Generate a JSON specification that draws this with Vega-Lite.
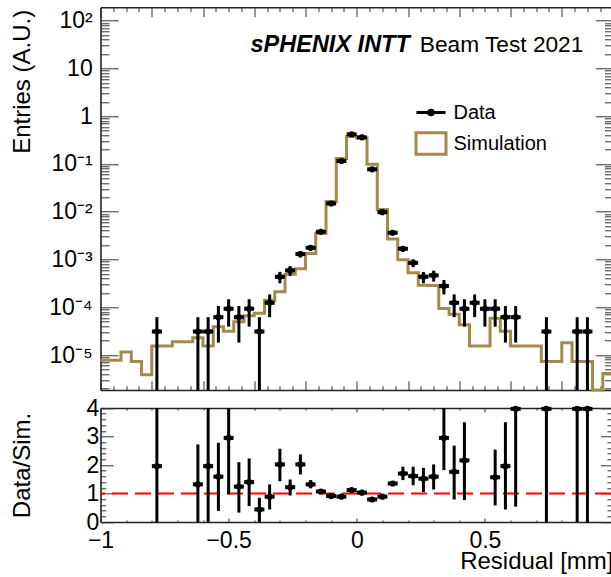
{
  "$schema": "https://vega.github.io/schema/vega-lite/v6.json",
  "autosize": {"type": "none"},
  "padding": {"left": 100.5, "top": 7.3, "right": 0, "bottom": 55},
  "background": "white",
  "width": 510.5,
  "height": 514.7,
  "config": {
    "view": {"stroke": null},
    "font": "Liberation Sans",
    "axis": {
      "grid": false,
      "domainColor": "#222222",
      "domainWidth": 1.6,
      "tickColor": "#333333",
      "tickWidth": 1,
      "labelFont": "Liberation Sans",
      "labelColor": "#000000",
      "labelFontSize": 23,
      "titleFont": "Liberation Sans",
      "titleColor": "#000000",
      "titleFontWeight": "normal",
      "titleFontSize": 24
    }
  },
  "datasets": {
    "sim": [
      {"x0": -1.00, "v": 7.8e-6}, {"x0": -0.96, "v": 7.8e-6}, {"x0": -0.92, "v": 1.15e-5}, {"x0": -0.88, "v": 7.3e-6},
      {"x0": -0.84, "v": 3.85e-6}, {"x0": -0.80, "v": 1.55e-5}, {"x0": -0.76, "v": 1.55e-5}, {"x0": -0.72, "v": 1.9e-5},
      {"x0": -0.68, "v": 1.9e-5}, {"x0": -0.64, "v": 2.3e-5}, {"x0": -0.60, "v": 1.55e-5}, {"x0": -0.56, "v": 3.9e-5},
      {"x0": -0.52, "v": 3.15e-5}, {"x0": -0.48, "v": 5.0e-5}, {"x0": -0.44, "v": 6.6e-5}, {"x0": -0.40, "v": 7.5e-5},
      {"x0": -0.36, "v": 1.4e-4}, {"x0": -0.32, "v": 2.12e-4}, {"x0": -0.28, "v": 4.9e-4}, {"x0": -0.24, "v": 6.4e-4},
      {"x0": -0.20, "v": 1.33e-3}, {"x0": -0.16, "v": 3.55e-3}, {"x0": -0.12, "v": 1.64e-2}, {"x0": -0.08, "v": 0.131},
      {"x0": -0.04, "v": 0.376}, {"x0": 0.00, "v": 0.352}, {"x0": 0.04, "v": 0.099}, {"x0": 0.08, "v": 0.0112},
      {"x0": 0.12, "v": 2.7e-3}, {"x0": 0.16, "v": 9.9e-4}, {"x0": 0.20, "v": 5.3e-4}, {"x0": 0.24, "v": 2.9e-4},
      {"x0": 0.28, "v": 2.85e-4}, {"x0": 0.32, "v": 9.4e-5}, {"x0": 0.36, "v": 7.1e-5}, {"x0": 0.40, "v": 4.3e-5},
      {"x0": 0.44, "v": 1.55e-5}, {"x0": 0.48, "v": 1.55e-5}, {"x0": 0.52, "v": 5.9e-5}, {"x0": 0.56, "v": 3.15e-5},
      {"x0": 0.60, "v": 1.55e-5}, {"x0": 0.64, "v": 1.55e-5}, {"x0": 0.68, "v": 1.55e-5}, {"x0": 0.72, "v": 7.3e-6},
      {"x0": 0.76, "v": 7.3e-6}, {"x0": 0.80, "v": 1.8e-5}, {"x0": 0.84, "v": 7.3e-6}, {"x0": 0.88, "v": 7.3e-6},
      {"x0": 0.92, "v": 1e-6}, {"x0": 0.96, "v": 4.1e-6}, {"x0": 1.00, "v": 4.1e-6}
    ],
    "data": [
      {"x": -0.78, "y": 3.1e-5, "lo": 1e-7, "hi": 6.2e-5},
      {"x": -0.62, "y": 3.1e-5, "lo": 1e-7, "hi": 6.2e-5},
      {"x": -0.58, "y": 3.1e-5, "lo": 1e-7, "hi": 6.2e-5},
      {"x": -0.54, "y": 6.2e-5, "lo": 1.82e-5, "hi": 1.06e-4},
      {"x": -0.50, "y": 9.3e-5, "lo": 3.93e-5, "hi": 1.47e-4},
      {"x": -0.46, "y": 6.2e-5, "lo": 1.82e-5, "hi": 1.06e-4},
      {"x": -0.42, "y": 9.3e-5, "lo": 3.93e-5, "hi": 1.47e-4},
      {"x": -0.38, "y": 3.1e-5, "lo": 1e-7, "hi": 6.2e-5},
      {"x": -0.34, "y": 1.24e-4, "lo": 6.2e-5, "hi": 1.86e-4},
      {"x": -0.30, "y": 4.34e-4, "lo": 3.18e-4, "hi": 5.5e-4},
      {"x": -0.26, "y": 5.9e-4, "lo": 4.55e-4, "hi": 7.25e-4},
      {"x": -0.22, "y": 1.3e-3, "lo": 1.1e-3, "hi": 1.5e-3},
      {"x": -0.18, "y": 1.76e-3, "lo": 1.53e-3, "hi": 1.99e-3},
      {"x": -0.14, "y": 3.8e-3, "lo": 3.46e-3, "hi": 4.14e-3},
      {"x": -0.10, "y": 0.0149, "lo": 0.0142, "hi": 0.0156},
      {"x": -0.06, "y": 0.1155, "lo": 0.1135, "hi": 0.1175},
      {"x": -0.02, "y": 0.418, "lo": 0.414, "hi": 0.422},
      {"x": 0.02, "y": 0.361, "lo": 0.357, "hi": 0.365},
      {"x": 0.06, "y": 0.0773, "lo": 0.0757, "hi": 0.0789},
      {"x": 0.10, "y": 9.8e-3, "lo": 9.25e-3, "hi": 1.035e-2},
      {"x": 0.14, "y": 3.63e-3, "lo": 3.29e-3, "hi": 3.97e-3},
      {"x": 0.18, "y": 1.68e-3, "lo": 1.45e-3, "hi": 1.91e-3},
      {"x": 0.22, "y": 8.5e-4, "lo": 6.9e-4, "hi": 1.01e-3},
      {"x": 0.26, "y": 4.34e-4, "lo": 3.18e-4, "hi": 5.5e-4},
      {"x": 0.30, "y": 4.65e-4, "lo": 3.45e-4, "hi": 5.85e-4},
      {"x": 0.34, "y": 2.79e-4, "lo": 1.86e-4, "hi": 3.72e-4},
      {"x": 0.38, "y": 1.24e-4, "lo": 6.2e-5, "hi": 1.86e-4},
      {"x": 0.42, "y": 9.3e-5, "lo": 3.93e-5, "hi": 1.47e-4},
      {"x": 0.46, "y": 1.24e-4, "lo": 6.2e-5, "hi": 1.86e-4},
      {"x": 0.50, "y": 9.3e-5, "lo": 3.93e-5, "hi": 1.47e-4},
      {"x": 0.54, "y": 9.3e-5, "lo": 3.93e-5, "hi": 1.47e-4},
      {"x": 0.58, "y": 6.2e-5, "lo": 1.82e-5, "hi": 1.06e-4},
      {"x": 0.62, "y": 6.2e-5, "lo": 1.82e-5, "hi": 1.06e-4},
      {"x": 0.74, "y": 3.1e-5, "lo": 1e-7, "hi": 6.2e-5},
      {"x": 0.86, "y": 3.1e-5, "lo": 1e-7, "hi": 6.2e-5},
      {"x": 0.90, "y": 3.1e-5, "lo": 1e-7, "hi": 6.2e-5}
    ],
    "ratio": [
      {"x": -0.78, "r": 1.96, "lo": 0, "hi": 4},
      {"x": -0.62, "r": 1.32, "lo": 0, "hi": 2.72},
      {"x": -0.58, "r": 1.96, "lo": 0, "hi": 4},
      {"x": -0.54, "r": 1.59, "lo": 0.39, "hi": 2.78},
      {"x": -0.50, "r": 2.95, "lo": 0.97, "hi": 4},
      {"x": -0.46, "r": 1.24, "lo": 0.33, "hi": 2.10},
      {"x": -0.42, "r": 1.40, "lo": 0.56, "hi": 2.23},
      {"x": -0.38, "r": 0.44, "lo": 0, "hi": 0.85},
      {"x": -0.34, "r": 0.89, "lo": 0.44, "hi": 1.32},
      {"x": -0.30, "r": 2.02, "lo": 1.43, "hi": 2.57},
      {"x": -0.26, "r": 1.22, "lo": 0.93, "hi": 1.49},
      {"x": -0.22, "r": 2.02, "lo": 1.67, "hi": 2.37},
      {"x": -0.18, "r": 1.32, "lo": 1.18, "hi": 1.47},
      {"x": -0.14, "r": 1.07, "lo": 0.99, "hi": 1.15},
      {"x": -0.10, "r": 0.91, "lo": 0.88, "hi": 0.94},
      {"x": -0.06, "r": 0.89, "lo": 0.88, "hi": 0.90},
      {"x": -0.02, "r": 1.12, "lo": 1.11, "hi": 1.13},
      {"x": 0.02, "r": 1.03, "lo": 1.02, "hi": 1.04},
      {"x": 0.06, "r": 0.79, "lo": 0.78, "hi": 0.80},
      {"x": 0.10, "r": 0.89, "lo": 0.85, "hi": 0.93},
      {"x": 0.14, "r": 1.35, "lo": 1.27, "hi": 1.43},
      {"x": 0.18, "r": 1.70, "lo": 1.47, "hi": 1.94},
      {"x": 0.22, "r": 1.61, "lo": 1.29, "hi": 1.94},
      {"x": 0.26, "r": 1.52, "lo": 1.05, "hi": 1.90},
      {"x": 0.30, "r": 1.59, "lo": 1.14, "hi": 2.02},
      {"x": 0.34, "r": 2.95, "lo": 1.82, "hi": 4},
      {"x": 0.38, "r": 1.76, "lo": 0.79, "hi": 2.68},
      {"x": 0.42, "r": 2.16, "lo": 0.77, "hi": 3.50},
      {"x": 0.54, "r": 1.57, "lo": 0.58, "hi": 2.54},
      {"x": 0.58, "r": 1.96, "lo": 0.44, "hi": 3.50},
      {"x": 0.62, "r": 3.97, "lo": 0.54, "hi": 4},
      {"x": 0.74, "r": 3.97, "lo": 0, "hi": 4},
      {"x": 0.86, "r": 3.97, "lo": 0, "hi": 4},
      {"x": 0.90, "r": 3.97, "lo": 0, "hi": 4}
    ]
  },
  "layer": [
    {
      "data": {"name": "sim"},
      "mark": {"type": "line", "interpolate": "step-after", "strokeWidth": 3},
      "encoding": {
        "x": {
          "field": "x0", "type": "quantitative",
          "scale": {"domain": [-1, 0.992], "nice": false, "zero": false},
          "axis": {
            "orient": "bottom", "offset": -132, "title": null, "labels": false, "domain": true,
            "values": [-1, -0.95, -0.9, -0.85, -0.8, -0.75, -0.7, -0.65, -0.6, -0.55, -0.5, -0.45, -0.4, -0.35, -0.3, -0.25, -0.2, -0.15, -0.1, -0.05, 0, 0.05, 0.1, 0.15, 0.2, 0.25, 0.3, 0.35, 0.4, 0.45, 0.5, 0.55, 0.6, 0.65, 0.7, 0.75, 0.8, 0.85, 0.9, 0.95],
            "tickSize": {"condition": {"test": "abs(datum.value*5 - round(datum.value*5)) < 0.001", "value": -9.3}, "value": -4.3}
          }
        },
        "y": {
          "field": "v", "type": "quantitative",
          "scale": {"type": "log", "domain": [1.85e-6, 191], "range": [382.7, 0], "nice": false, "clamp": true},
          "axis": {
            "orient": "left", "domain": true,
            "values": [2e-6, 3e-6, 4e-6, 5e-6, 6e-6, 7e-6, 8e-6, 9e-6, 1e-5, 2e-5, 3e-5, 4e-5, 5e-5, 6e-5, 7e-5, 8e-5, 9e-5, 1e-4, 2e-4, 3e-4, 4e-4, 5e-4, 6e-4, 7e-4, 8e-4, 9e-4, 1e-3, 2e-3, 3e-3, 4e-3, 5e-3, 6e-3, 7e-3, 8e-3, 9e-3, 0.01, 0.02, 0.03, 0.04, 0.05, 0.06, 0.07, 0.08, 0.09, 0.1, 0.2, 0.3, 0.4, 0.5, 0.6, 0.7, 0.8, 0.9, 1, 2, 3, 4, 5, 6, 7, 8, 9, 10, 20, 30, 40, 50, 60, 70, 80, 90, 100],
            "tickSize": {"condition": {"test": "abs(log(datum.value)/LN10 - round(log(datum.value)/LN10)) < 0.001", "value": -17.7}, "value": -8.5},
            "labelExpr": "abs(log(datum.value)/LN10 - round(log(datum.value)/LN10)) < 0.001 ? (datum.value > 50 ? '10²' : datum.value > 5 ? '10\u2002' : datum.value > 0.5 ? '1\u2002' : '10⁻' + ['⁰','¹','²','³','⁴','⁵','⁶'][round(-log(datum.value)/LN10)]) : ''",
            "labelPadding": 26,
            "labelBaseline": "middle",
            "title": "Entries (A.U.)",
            "titleAngle": 270,
            "titleAlign": "right",
            "titleBaseline": "alphabetic",
            "titleX": -71,
            "titleY": 2
          }
        },
        "color": {
          "datum": "Simulation", "type": "nominal",
          "scale": {"domain": ["Data", "Simulation"], "range": ["#000000", "#a18a4c"]},
          "legend": {
            "title": null,
            "orient": "none",
            "legendX": 314,
            "legendY": 88.7,
            "padding": 0,
            "rowPadding": 3,
            "labelFont": "Liberation Sans",
            "labelFontSize": 20,
            "labelColor": "#000000",
            "labelOffset": 6,
            "symbolSize": 900,
            "symbolStrokeWidth": 3,
            "encode": {
              "symbols": {
                "update": {
                  "shape": {"signal": "datum.value === 'Data' ? 'M-0.97,0H0.97M-0.15,0A0.15,0.15,0,1,0,0.15,0A0.15,0.15,0,1,0,-0.15,0Z' : 'M-1,-0.72H1V0.72H-1Z'"},
                  "fill": {"signal": "datum.value === 'Data' ? '#000000' : 'transparent'"},
                  "stroke": {"signal": "datum.value === 'Data' ? '#000000' : '#a18a4c'"},
                  "strokeWidth": {"value": 3},
                  "size": {"value": 900},
                  "opacity": {"value": 1}
                }
              }
            }
          }
        }
      }
    },
    {
      "data": {"name": "data"},
      "mark": {"type": "rule", "strokeWidth": 3},
      "encoding": {
        "x": {
          "field": "x", "type": "quantitative",
          "scale": {"domain": [-1, 0.992], "nice": false, "zero": false},
          "axis": {
            "orient": "top", "title": null, "labels": false, "domain": true,
            "values": [-1, -0.95, -0.9, -0.85, -0.8, -0.75, -0.7, -0.65, -0.6, -0.55, -0.5, -0.45, -0.4, -0.35, -0.3, -0.25, -0.2, -0.15, -0.1, -0.05, 0, 0.05, 0.1, 0.15, 0.2, 0.25, 0.3, 0.35, 0.4, 0.45, 0.5, 0.55, 0.6, 0.65, 0.7, 0.75, 0.8, 0.85, 0.9, 0.95],
            "tickSize": {"condition": {"test": "abs(datum.value*5 - round(datum.value*5)) < 0.001", "value": -9.3}, "value": -4.3}
          }
        },
        "y": {
          "field": "lo", "type": "quantitative",
          "scale": {"type": "log", "domain": [1.85e-6, 191], "range": [382.7, 0], "nice": false, "clamp": true},
          "axis": {
            "orient": "right", "title": null, "labels": false, "domain": false,
            "values": [2e-6, 3e-6, 4e-6, 5e-6, 6e-6, 7e-6, 8e-6, 9e-6, 1e-5, 2e-5, 3e-5, 4e-5, 5e-5, 6e-5, 7e-5, 8e-5, 9e-5, 1e-4, 2e-4, 3e-4, 4e-4, 5e-4, 6e-4, 7e-4, 8e-4, 9e-4, 1e-3, 2e-3, 3e-3, 4e-3, 5e-3, 6e-3, 7e-3, 8e-3, 9e-3, 0.01, 0.02, 0.03, 0.04, 0.05, 0.06, 0.07, 0.08, 0.09, 0.1, 0.2, 0.3, 0.4, 0.5, 0.6, 0.7, 0.8, 0.9, 1, 2, 3, 4, 5, 6, 7, 8, 9, 10, 20, 30, 40, 50, 60, 70, 80, 90, 100],
            "tickSize": {"condition": {"test": "abs(log(datum.value)/LN10 - round(log(datum.value)/LN10)) < 0.001", "value": -15.5}, "value": -6.5}
          }
        },
        "y2": {"field": "hi"},
        "color": {"datum": "Data", "type": "nominal"}
      }
    },
    {
      "data": {"name": "data"},
      "mark": {"type": "tick", "orient": "horizontal", "size": 10, "thickness": 4, "color": "#000000", "opacity": 1},
      "encoding": {
        "x": {"field": "x", "type": "quantitative", "scale": {"domain": [-1, 0.992], "nice": false, "zero": false}, "axis": null},
        "y": {"field": "y", "type": "quantitative", "scale": {"type": "log", "domain": [1.85e-6, 191], "range": [382.7, 0], "nice": false, "clamp": true}, "axis": null}
      }
    },
    {
      "data": {"name": "data"},
      "mark": {"type": "point", "shape": "circle", "filled": true, "size": 38, "color": "#000000", "opacity": 1},
      "encoding": {
        "x": {"field": "x", "type": "quantitative", "scale": {"domain": [-1, 0.992], "nice": false, "zero": false}, "axis": null},
        "y": {"field": "y", "type": "quantitative", "scale": {"type": "log", "domain": [1.85e-6, 191], "range": [382.7, 0], "nice": false, "clamp": true}, "axis": null}
      }
    },
    {
      "data": {"values": [{}]},
      "mark": {"type": "text", "text": "sPHENIX INTT", "font": "Liberation Sans", "fontSize": 23.5, "fontWeight": "bold", "fontStyle": "italic", "align": "right", "baseline": "alphabetic", "color": "#000000"},
      "encoding": {
        "x": {"datum": 0.207, "type": "quantitative", "scale": {"domain": [-1, 0.992], "nice": false, "zero": false}, "axis": null},
        "y": {"datum": 22.1, "type": "quantitative", "scale": {"type": "log", "domain": [1.85e-6, 191], "range": [382.7, 0], "nice": false, "clamp": true}, "axis": null}
      }
    },
    {
      "data": {"values": [{}]},
      "mark": {"type": "text", "text": "Beam Test 2021", "font": "Liberation Sans", "fontSize": 22.7, "align": "left", "baseline": "alphabetic", "color": "#000000"},
      "encoding": {
        "x": {"datum": 0.246, "type": "quantitative", "scale": {"domain": [-1, 0.992], "nice": false, "zero": false}, "axis": null},
        "y": {"datum": 22.1, "type": "quantitative", "scale": {"type": "log", "domain": [1.85e-6, 191], "range": [382.7, 0], "nice": false, "clamp": true}, "axis": null}
      }
    },
    {
      "data": {"values": [{}]},
      "mark": {"type": "rule", "color": "#ff0000", "strokeWidth": 2, "strokeDash": [16, 7]},
      "encoding": {
        "y": {
          "datum": 1, "type": "quantitative",
          "scale": {"domain": [0, 4], "range": [514.7, 400.7], "nice": false, "zero": false, "clamp": true},
          "axis": {
            "orient": "left", "domain": true,
            "values": [0, 0.2, 0.4, 0.6, 0.8, 1, 1.2, 1.4, 1.6, 1.8, 2, 2.2, 2.4, 2.6, 2.8, 3, 3.2, 3.4, 3.6, 3.8, 4],
            "tickSize": {"condition": {"test": "abs(datum.value - round(datum.value)) < 0.001", "value": -12.7}, "value": -5.3},
            "labelExpr": "abs(datum.value - round(datum.value)) < 0.001 ? format(datum.value, 'd') : ''",
            "labelPadding": 14.5,
            "labelBaseline": "middle",
            "title": "Data/Sim.",
            "titleAngle": 270,
            "titleAlign": "center",
            "titleBaseline": "alphabetic",
            "titleX": -71,
            "titleY": 457.7
          }
        }
      }
    },
    {
      "data": {"name": "ratio"},
      "mark": {"type": "rule", "strokeWidth": 3, "color": "#000000"},
      "encoding": {
        "x": {
          "field": "x", "type": "quantitative",
          "scale": {"domain": [-1, 0.992], "nice": false, "zero": false},
          "axis": {
            "orient": "bottom", "domain": true,
            "values": [-1, -0.9, -0.8, -0.7, -0.6, -0.5, -0.4, -0.3, -0.2, -0.1, 0, 0.1, 0.2, 0.3, 0.4, 0.5, 0.6, 0.7, 0.8, 0.9],
            "tickSize": {"condition": {"test": "abs(datum.value*2 - round(datum.value*2)) < 0.001", "value": -4}, "value": -2},
            "labelExpr": "abs(datum.value*2 - round(datum.value*2)) < 0.001 ? (datum.value < -0.001 ? '−' + format(-datum.value, '~g') : format(datum.value, '~g')) : ''",
            "labelPadding": 11,
            "labelBaseline": "top",
            "labelFlush": false,
            "title": "Residual [mm]",
            "titleAlign": "right",
            "titleBaseline": "alphabetic",
            "titleX": 512.5,
            "titleY": 46
          }
        },
        "y": {"field": "lo", "type": "quantitative", "scale": {"domain": [0, 4], "range": [514.7, 400.7], "nice": false, "zero": false, "clamp": true}, "axis": null},
        "y2": {"field": "hi"}
      }
    },
    {
      "data": {"name": "ratio"},
      "mark": {"type": "tick", "orient": "horizontal", "size": 10, "thickness": 4, "color": "#000000", "opacity": 1},
      "encoding": {
        "x": {
          "field": "x", "type": "quantitative",
          "scale": {"domain": [-1, 0.992], "nice": false, "zero": false},
          "axis": {
            "orient": "top", "offset": -400.7, "title": null, "labels": false, "domain": true,
            "values": [-1, -0.9, -0.8, -0.7, -0.6, -0.5, -0.4, -0.3, -0.2, -0.1, 0, 0.1, 0.2, 0.3, 0.4, 0.5, 0.6, 0.7, 0.8, 0.9],
            "tickSize": {"condition": {"test": "abs(datum.value*2 - round(datum.value*2)) < 0.001", "value": -4}, "value": -2}
          }
        },
        "y": {
          "field": "r", "type": "quantitative",
          "scale": {"domain": [0, 4], "range": [514.7, 400.7], "nice": false, "zero": false, "clamp": true},
          "axis": {
            "orient": "right", "title": null, "labels": false, "domain": false,
            "values": [0, 0.2, 0.4, 0.6, 0.8, 1, 1.2, 1.4, 1.6, 1.8, 2, 2.2, 2.4, 2.6, 2.8, 3, 3.2, 3.4, 3.6, 3.8, 4],
            "tickSize": {"condition": {"test": "abs(datum.value - round(datum.value)) < 0.001", "value": -10.5}, "value": -4}
          }
        }
      }
    },
    {
      "data": {"name": "ratio"},
      "mark": {"type": "point", "shape": "circle", "filled": true, "size": 38, "color": "#000000", "opacity": 1},
      "encoding": {
        "x": {"field": "x", "type": "quantitative", "scale": {"domain": [-1, 0.992], "nice": false, "zero": false}, "axis": null},
        "y": {"field": "r", "type": "quantitative", "scale": {"domain": [0, 4], "range": [514.7, 400.7], "nice": false, "zero": false, "clamp": true}, "axis": null}
      }
    }
  ],
  "resolve": {"scale": {"y": "independent"}, "axis": {"x": "independent", "y": "independent"}}
}
